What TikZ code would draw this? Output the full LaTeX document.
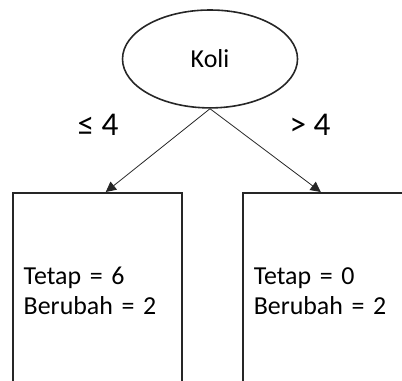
\documentclass[tikz,border=0pt]{standalone}
\usepackage{fontspec}
\setmainfont{Carlito}
\usetikzlibrary{arrows.meta,shapes.geometric}

\begin{document}
\begin{tikzpicture}[
rootnode/.style={ellipse, draw=black!85, line width=1.2pt, minimum width=4.63cm, minimum height=2.59cm, inner sep=0pt, font=\fontsize{19.5}{22.5}\selectfont},
leafbox/.style={draw=black!85, line width=1.2pt, anchor=north west, minimum width=4.47cm, minimum height=5.19cm, inner xsep=0.29cm, text width=3.89cm, align=left, font=\fontsize{19.5}{22.5}\selectfont},
branchlabel/.style={font=\fontsize{25}{28}\selectfont},
branch/.style={-{Triangle[length=0.27cm, width=0.27cm]}, line width=0.6pt, black!85}
]
    \useasboundingbox (0,0) rectangle (10.635,10.079);
    \clip (0,0) rectangle (10.635,10.079);

    \node[rootnode] (koli) at (5.556,8.519){Koli};

    \node[leafbox] (lbox) at (0.317,5.0){Tetap = 6\\Berubah = 2};
    \node[leafbox] (rbox) at (6.402,5.0){Tetap = 0\\Berubah = 2};

    \node[branchlabel] (lelabel) at (2.593,6.772){≤ 4};
    \node[branchlabel] (gtlabel) at (8.201,6.772){> 4};

    \draw[branch] (koli.south) -- ([xshift=0.225cm]lbox.north);
    \draw[branch] (koli.south) -- ([xshift=-0.172cm]rbox.north);
\end{tikzpicture}
\end{document}
